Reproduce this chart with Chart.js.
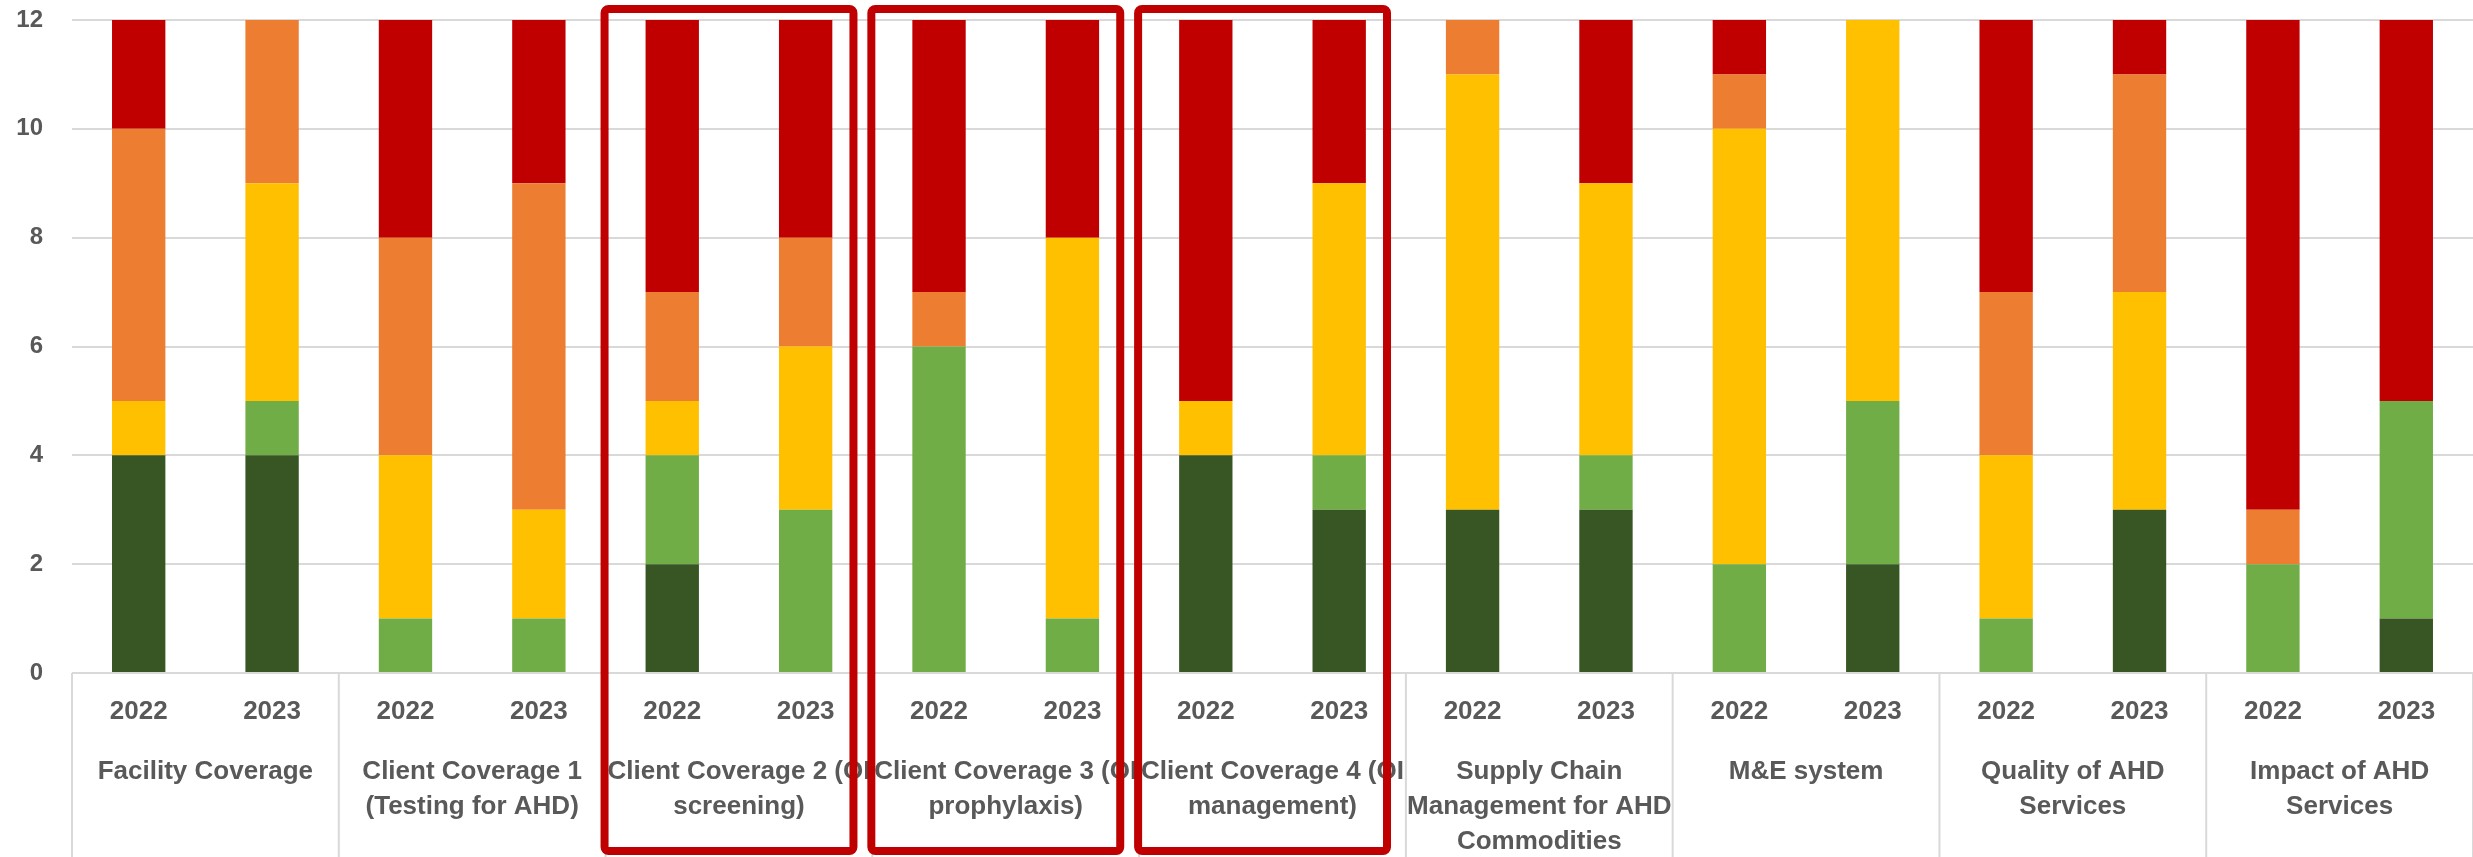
<!DOCTYPE html>
<html>
<head>
<meta charset="utf-8">
<title>AHD scorecard 2022 vs 2023</title>
<script src="https://cdn.jsdelivr.net/npm/chart.js@4/dist/chart.umd.min.js"></script>
<style>
  html, body { margin: 0; padding: 0; background: #fff; }
  #wrap { width: 2473px; height: 857px; position: relative; }
</style>
</head>
<body>
<div id="wrap"><canvas id="chart"></canvas></div>
<script>
// groups on the bottom row, years on the row above it
const groups = [
    'Facility Coverage',
    ['Client Coverage 1', '(Testing for AHD)'],
    ['Client Coverage 2 (OI', 'screening)'],
    ['Client Coverage 3 (OI', 'prophylaxis)'],
    ['Client Coverage 4 (OI', 'management)'],
    ['Supply Chain', 'Management for AHD', 'Commodities'],
    'M&E system',
    ['Quality of AHD', 'Services'],
    ['Impact of AHD', 'Services']
];
const years = ['2022', '2023'];

// counts per bar (2 bars per group), stacked bottom to top
const darkGreen  = [4, 4, 0, 0, 2, 0, 0, 0, 4, 3, 3, 3, 0, 2, 0, 3, 0, 1];
const lightGreen = [0, 1, 1, 1, 2, 3, 6, 1, 0, 1, 0, 1, 2, 3, 1, 0, 2, 4];
const yellow     = [1, 4, 3, 2, 1, 3, 0, 7, 1, 5, 8, 5, 8, 7, 3, 4, 0, 0];
const orange     = [5, 3, 4, 6, 2, 2, 1, 0, 0, 0, 1, 0, 1, 0, 3, 4, 1, 0];
const red        = [2, 0, 4, 3, 5, 4, 5, 4, 7, 3, 0, 3, 1, 0, 5, 1, 9, 7];

const yTicks = [0, 2, 4, 6, 8, 10, 12];

// groups outlined in red (index into groups)
const highlighted = [2, 3, 4];

const xLabels = [];
groups.forEach(() => years.forEach(y => xLabels.push(y)));

const textColor = '#595959';
const gridColor = '#D9D9D9';

// dividers under the axis + red outline boxes
const groupDecor = {
    id: 'groupDecor',
    afterDraw(chart) {
        const ctx = chart.ctx;
        const x = chart.scales.x;
        const area = chart.chartArea;
        const slot = x.width / xLabels.length;
        const groupW = slot * years.length;

        ctx.save();
        ctx.strokeStyle = gridColor;
        ctx.lineWidth = 2;
        for (let g = 0; g <= groups.length; g++) {
            const px = x.getPixelForValue(g * years.length) - slot / 2;
            ctx.beginPath();
            ctx.moveTo(px, area.bottom);
            ctx.lineTo(px, chart.height);
            ctx.stroke();
        }

        ctx.strokeStyle = '#C00000';
        ctx.lineWidth = 8;
        ctx.lineJoin = 'round';
        highlighted.forEach(g => {
            const left = x.getPixelForValue(g * years.length) - slot / 2 - 1;
            const w = groupW * 0.933;
            const top = area.top - 11;
            const bottom = chart.height - 6;
            ctx.beginPath();
            ctx.roundRect(left, top, w, bottom - top, 4);
            ctx.stroke();
        });
        ctx.restore();
    }
};

Chart.defaults.font.family = '"Liberation Sans", Arial, sans-serif';
Chart.defaults.color = textColor;

function ds(label, data, color) {
    return {
        label: label,
        data: data,
        backgroundColor: color,
        borderWidth: 0,
        barPercentage: 0.4,
        categoryPercentage: 1.0
    };
}

const xFont = { size: 26, weight: 'bold', lineHeight: 1.33 };

new Chart(document.getElementById('chart'), {
    type: 'bar',
    data: {
        labels: xLabels,
        datasets: [
            ds('Dark green', darkGreen, '#375623'),
            ds('Light green', lightGreen, '#70AD47'),
            ds('Yellow', yellow, '#FFC000'),
            ds('Orange', orange, '#ED7D31'),
            ds('Red', red, '#C00000')
        ]
    },
    options: {
        responsive: true,
        maintainAspectRatio: false,
        animation: false,
        layout: { padding: { top: 20, right: 0, left: 0, bottom: 0 } },
        plugins: {
            legend: { display: false },
            tooltip: { enabled: false }
        },
        scales: {
            x: {
                stacked: true,
                grid: { display: false },
                border: { display: false },
                ticks: {
                    autoSkip: false,
                    maxRotation: 0,
                    padding: 14,
                    color: textColor,
                    font: xFont
                },
                afterFit: s => { s.height = 60; }
            },
            x2: {
                type: 'category',
                position: 'bottom',
                weight: 1,
                labels: groups,
                offset: true,
                grid: { display: false },
                border: { display: false },
                ticks: {
                    autoSkip: false,
                    maxRotation: 0,
                    padding: 14,
                    color: textColor,
                    font: xFont
                },
                afterFit: s => { s.height = 124; }
            },
            y: {
                stacked: true,
                min: 0,
                max: 12,
                afterBuildTicks: s => { s.ticks = yTicks.map(v => ({ value: v })); },
                grid: { color: gridColor, lineWidth: 2, drawTicks: false },
                border: { display: false },
                ticks: {
                    padding: 29,
                    color: textColor,
                    font: { size: 24, weight: 'bold' }
                },
                afterFit: s => {
                    s.width = 72;
                    s.paddingTop = 0;
                    s.paddingBottom = 0;
                }
            }
        }
    },
    plugins: [groupDecor]
});
</script>
</body>
</html>
